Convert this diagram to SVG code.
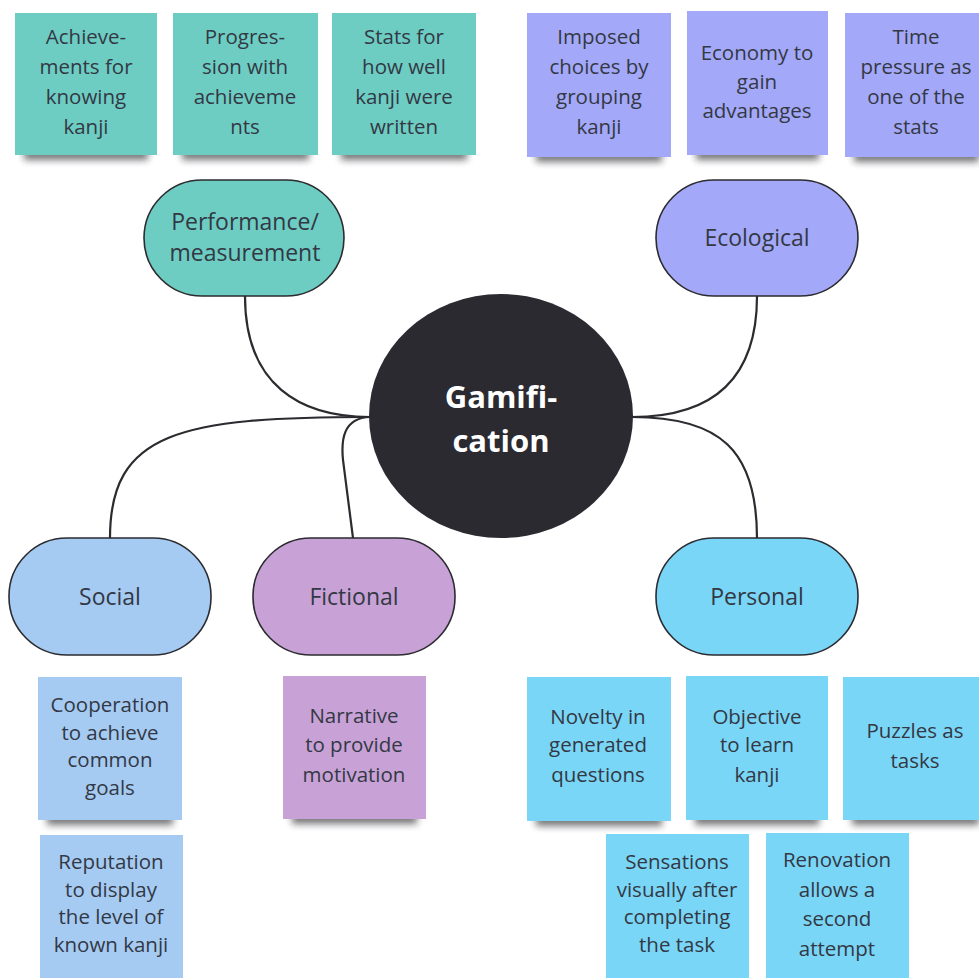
<svg xmlns="http://www.w3.org/2000/svg" width="979" height="978" viewBox="0 0 979 978">
  <defs>
    <filter id="noteShadow" x="-20%" y="-200%" width="140%" height="500%">
      <feGaussianBlur stdDeviation="3.8"/>
    </filter>
    <style>
      .bg { fill: #ffffff; }
      .shadow { fill: #1c1c24; opacity: 0.6; filter: url(#noteShadow); }
      .note text, .pill text { font-family: "Open Sans", "Noto Sans", "Liberation Sans", sans-serif; fill: #333844; text-anchor: middle; }
      .note text { font-size: 20.5px; }
      .pill text { font-size: 23px; }
      .pill rect { stroke: #2b2b30; stroke-width: 1.6; }
      .teal { fill: #6dcdc3; }
      .violet { fill: #a4a8f8; }
      .sky { fill: #a5cbf3; }
      .plum { fill: #c8a2d6; }
      .cyan { fill: #7ad6f6; }
      .conn { fill: none; stroke: #2b2b30; stroke-width: 2.2; stroke-linecap: round; }
      .hub { fill: #2a2a30; }
      .hub-label { font-family: "Open Sans", "Noto Sans", "Liberation Sans", sans-serif; font-weight: 700; font-size: 31px; fill: #ffffff; text-anchor: middle; }
    </style>
  </defs>

  <rect class="bg" x="0" y="0" width="979" height="978"/>

  <!-- connectors between hub and category pills -->
  <g id="connectors">
    <path class="conn" d="M245,296 C245,385 300,417 370,417"/>
    <path class="conn" d="M370,417 C180,417 110,432 110,538"/>
    <path class="conn" d="M370,417 C343,418 341,440 343,460 L353,538"/>
    <path class="conn" d="M757,296 C757,390 700,417 632,417"/>
    <path class="conn" d="M632,417 C720,417 757,450 757,538"/>
  </g>

  <!-- central hub -->
  <g id="hub">
    <ellipse class="hub" cx="501" cy="416" rx="132" ry="122"/>
    <text class="hub-label" x="501" y="408">Gamifi-</text>
    <text class="hub-label" x="501" y="452">cation</text>
  </g>

  <!-- category pills -->
  <g id="pill-performance" class="pill">
    <rect class="teal" x="144" y="180" width="200" height="116" rx="58"/>
    <text x="245" y="230">Performance/</text>
    <text x="245" y="261">measurement</text>
  </g>
  <g id="pill-ecological" class="pill">
    <rect class="violet" x="656" y="180" width="202" height="116" rx="58"/>
    <text x="757" y="246">Ecological</text>
  </g>
  <g id="pill-social" class="pill">
    <rect class="sky" x="9" y="538" width="202" height="117" rx="58"/>
    <text x="110" y="605">Social</text>
  </g>
  <g id="pill-fictional" class="pill">
    <rect class="plum" x="253" y="538" width="202" height="117" rx="58"/>
    <text x="354" y="605">Fictional</text>
  </g>
  <g id="pill-personal" class="pill">
    <rect class="cyan" x="656" y="538" width="202" height="117" rx="58"/>
    <text x="757" y="605">Personal</text>
  </g>

  <!-- performance / measurement notes -->
  <g id="note-achievements" class="note">
    <rect class="shadow" x="24" y="148" width="124" height="12"/>
    <rect class="teal" x="15" y="13" width="142" height="142"/>
    <text><tspan x="86" y="44">Achieve-</tspan><tspan x="86" y="74">ments for</tspan><tspan x="86" y="104">knowing</tspan><tspan x="86" y="134">kanji</tspan></text>
  </g>
  <g id="note-progression" class="note">
    <rect class="shadow" x="182" y="148" width="127" height="12"/>
    <rect class="teal" x="173" y="13" width="145" height="142"/>
    <text><tspan x="245" y="44">Progres-</tspan><tspan x="245" y="74">sion with</tspan><tspan x="245" y="104">achieveme</tspan><tspan x="245" y="134">nts</tspan></text>
  </g>
  <g id="note-stats" class="note">
    <rect class="shadow" x="341" y="148" width="126" height="12"/>
    <rect class="teal" x="332" y="13" width="144" height="142"/>
    <text><tspan x="404" y="44">Stats for</tspan><tspan x="404" y="74">how well</tspan><tspan x="404" y="104">kanji were</tspan><tspan x="404" y="134">written</tspan></text>
  </g>

  <!-- ecological notes -->
  <g id="note-imposed" class="note">
    <rect class="shadow" x="536" y="150" width="126" height="12"/>
    <rect class="violet" x="527" y="13" width="144" height="144"/>
    <text><tspan x="599" y="44">Imposed</tspan><tspan x="599" y="74">choices by</tspan><tspan x="599" y="104">grouping</tspan><tspan x="599" y="134">kanji</tspan></text>
  </g>
  <g id="note-economy" class="note">
    <rect class="shadow" x="696" y="148" width="123" height="12"/>
    <rect class="violet" x="687" y="11" width="141" height="144"/>
    <text><tspan x="757" y="60">Economy to</tspan><tspan x="757" y="89">gain</tspan><tspan x="757" y="118">advantages</tspan></text>
  </g>
  <g id="note-time" class="note">
    <rect class="shadow" x="854" y="150" width="125" height="12"/>
    <rect class="violet" x="845" y="13" width="140" height="144"/>
    <text><tspan x="916" y="44">Time</tspan><tspan x="916" y="74">pressure as</tspan><tspan x="916" y="104">one of the</tspan><tspan x="916" y="134">stats</tspan></text>
  </g>

  <!-- social notes -->
  <g id="note-cooperation" class="note">
    <rect class="shadow" x="47" y="813" width="126" height="12"/>
    <rect class="sky" x="38" y="677" width="144" height="143"/>
    <text><tspan x="110" y="712">Cooperation</tspan><tspan x="110" y="740">to achieve</tspan><tspan x="110" y="767">common</tspan><tspan x="110" y="795">goals</tspan></text>
  </g>
  <g id="note-reputation" class="note">
    <rect class="sky" x="40" y="835" width="143" height="143"/>
    <text><tspan x="111" y="869">Reputation</tspan><tspan x="111" y="897">to display</tspan><tspan x="111" y="924">the level of</tspan><tspan x="111" y="952">known kanji</tspan></text>
  </g>

  <!-- fictional note -->
  <g id="note-narrative" class="note">
    <rect class="shadow" x="292" y="812" width="125" height="12"/>
    <rect class="plum" x="283" y="676" width="143" height="143"/>
    <text><tspan x="354" y="723">Narrative</tspan><tspan x="354" y="752">to provide</tspan><tspan x="354" y="782">motivation</tspan></text>
  </g>

  <!-- personal notes -->
  <g id="note-novelty" class="note">
    <rect class="shadow" x="536" y="814" width="126" height="12"/>
    <rect class="cyan" x="527" y="677" width="144" height="144"/>
    <text><tspan x="598" y="724">Novelty in</tspan><tspan x="598" y="752">generated</tspan><tspan x="598" y="782">questions</tspan></text>
  </g>
  <g id="note-objective" class="note">
    <rect class="shadow" x="695" y="813" width="124" height="12"/>
    <rect class="cyan" x="686" y="676" width="142" height="144"/>
    <text><tspan x="757" y="724">Objective</tspan><tspan x="757" y="752">to learn</tspan><tspan x="757" y="782">kanji</tspan></text>
  </g>
  <g id="note-puzzles" class="note">
    <rect class="shadow" x="852" y="813" width="127" height="12"/>
    <rect class="cyan" x="843" y="677" width="142" height="143"/>
    <text><tspan x="915" y="738">Puzzles as</tspan><tspan x="915" y="768">tasks</tspan></text>
  </g>
  <g id="note-sensations" class="note">
    <rect class="cyan" x="606" y="834" width="143" height="144"/>
    <text><tspan x="677" y="869">Sensations</tspan><tspan x="677" y="897">visually after</tspan><tspan x="677" y="924">completing</tspan><tspan x="677" y="952">the task</tspan></text>
  </g>
  <g id="note-renovation" class="note">
    <rect class="cyan" x="766" y="833" width="143" height="145"/>
    <text><tspan x="837" y="867">Renovation</tspan><tspan x="837" y="897">allows a</tspan><tspan x="837" y="926">second</tspan><tspan x="837" y="956">attempt</tspan></text>
  </g>
</svg>
